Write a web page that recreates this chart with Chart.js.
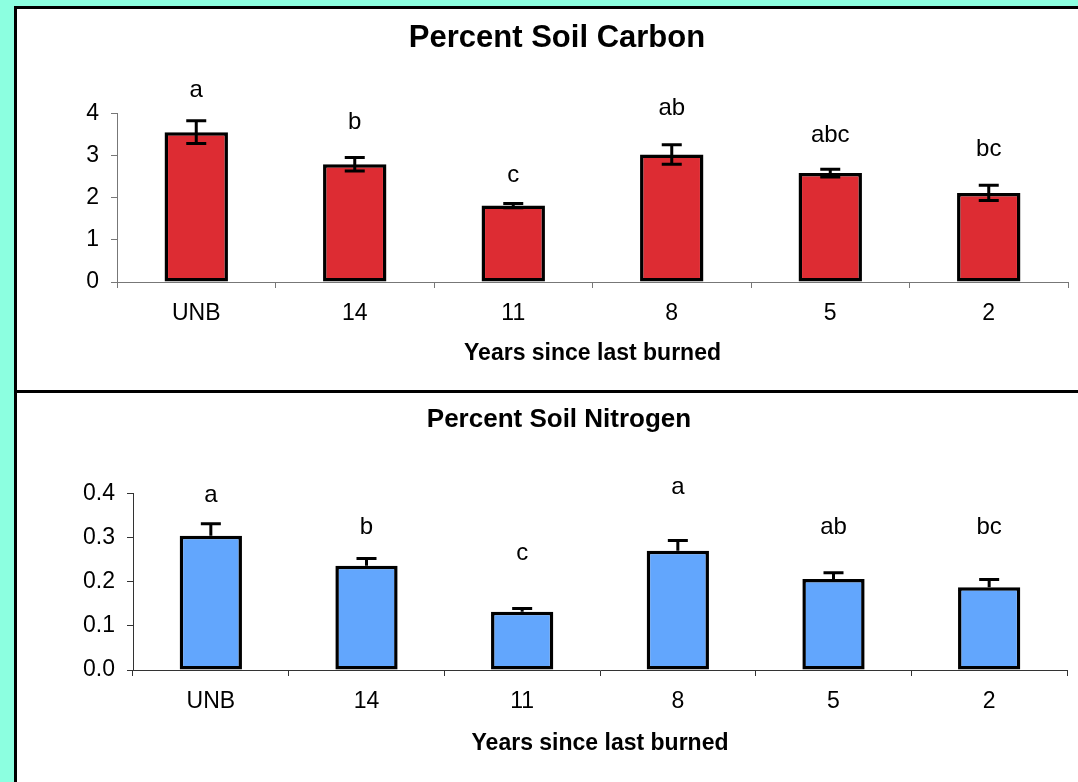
<!DOCTYPE html>
<html>
<head>
<meta charset="utf-8">
<script src="https://cdn.jsdelivr.net/npm/chart.js@4.4.0/dist/chart.umd.min.js"></script>
<style>
  html, body { margin: 0; padding: 0; }
  body { width: 1078px; height: 782px; background: #8cffe0; position: relative; overflow: hidden; }
  #panel { position: absolute; left: 14px; top: 6px; width: 1100px; height: 800px; background: #fff; border-left: 3px solid #000; border-top: 3px solid #000; }
  #divider { position: absolute; left: 14px; top: 390px; width: 1100px; height: 3px; background: #000; }
  canvas { position: absolute; left: 17px; }
  #carbon { top: 9px; }
  #nitrogen { top: 393px; }
</style>
</head>
<body>
<div id="panel"></div>
<div id="divider"></div>
<canvas id="carbon" width="1080" height="381"></canvas>
<canvas id="nitrogen" width="1080" height="389"></canvas>
<script>
const years = ['UNB', '14', '11', '8', '5', '2'];

const carbonPct = [3.55, 2.79, 1.81, 3.02, 2.58, 2.11];
const carbonErr = [0.27, 0.16, 0.05, 0.23, 0.09, 0.18];
const carbonLetters = ['a', 'b', 'c', 'ab', 'abc', 'bc'];
const carbonLetterAt = [4.38, 3.62, 2.38, 3.95, 3.32, 2.99];

const nitrogenPct = [0.304, 0.236, 0.132, 0.270, 0.206, 0.187];
const nitrogenErr = [0.027, 0.016, 0.007, 0.023, 0.014, 0.018];
const nitrogenLetters = ['a', 'b', 'c', 'a', 'ab', 'bc'];
const nitrogenLetterAt = [0.381, 0.307, 0.250, 0.399, 0.307, 0.307];

Chart.defaults.font.family = "'Liberation Sans', Arial, sans-serif";
Chart.defaults.color = '#000';

// error bars + significance letters, drawn off the chart's own scales
const extrasPlugin = {
  id: 'extras',
  afterDatasetsDraw(chart, args, opts) {
    const { ctx, scales: { x, y } } = chart;
    const bars = chart.getDatasetMeta(0).data;
    const values = chart.data.datasets[0].data;
    ctx.save();
    ctx.strokeStyle = '#000';
    ctx.lineWidth = 3;
    bars.forEach((bar, i) => {
      const v = values[i];
      const e = opts.errors[i];
      const top = y.getPixelForValue(v + e);
      const bottom = opts.both ? y.getPixelForValue(v - e) : bar.y;
      ctx.beginPath();
      ctx.moveTo(bar.x, top);
      ctx.lineTo(bar.x, bottom);
      ctx.moveTo(bar.x - 10, top);
      ctx.lineTo(bar.x + 10, top);
      if (opts.both) {
        ctx.moveTo(bar.x - 10, bottom);
        ctx.lineTo(bar.x + 10, bottom);
      }
      ctx.stroke();
    });
    ctx.fillStyle = '#000';
    ctx.font = "24px 'Liberation Sans', Arial, sans-serif";
    ctx.textAlign = 'center';
    ctx.textBaseline = 'alphabetic';
    opts.letters.forEach((t, i) => {
      ctx.fillText(t, x.getPixelForValue(i), y.getPixelForValue(opts.letterAt[i]));
    });
    ctx.restore();
  },
};

function makeChart(id, cfg) {
  return new Chart(document.getElementById(id), {
    type: 'bar',
    data: {
      labels: years,
      datasets: [{
        data: cfg.values,
        backgroundColor: cfg.color,
        borderColor: '#000',
        borderWidth: 3.5,
        borderSkipped: false,
        categoryPercentage: 1,
        barPercentage: 0.4,
      }],
    },
    options: {
      responsive: false,
      animation: false,
      layout: { padding: { left: cfg.padLeft, right: cfg.padRight, top: 0, bottom: cfg.padBottom } },
      plugins: {
        legend: { display: false },
        tooltip: { enabled: false },
        title: {
          display: true,
          text: cfg.title,
          color: '#000',
          font: { size: cfg.titleSize, weight: 'bold' },
          padding: { top: cfg.titleTop, bottom: cfg.titleBottom },
        },
        extras: { errors: cfg.errors, both: cfg.both, letters: cfg.letters, letterAt: cfg.letterAt },
      },
      scales: {
        x: {
          grid: { drawOnChartArea: false, offset: true, tickLength: 6, color: cfg.axisColor },
          border: { color: cfg.axisColor, width: 1 },
          ticks: { font: { size: 23 }, padding: 12, color: '#000' },
          title: {
            display: true,
            text: 'Years since last burned',
            color: '#000',
            font: { size: 23, weight: 'bold' },
            padding: { top: 4, bottom: 3 },
          },
          afterFit: (s) => { s.height = cfg.xHeight; },
        },
        y: {
          min: 0,
          max: cfg.max,
          grid: { drawOnChartArea: false, tickLength: 6, color: cfg.axisColor },
          border: { color: cfg.axisColor, width: 1 },
          ticks: {
            stepSize: cfg.step,
            font: { size: cfg.yTickSize },
            padding: 12,
            color: '#000',
            callback: (v) => v.toFixed(cfg.decimals),
          },
          afterFit: (s) => { s.width = cfg.yWidth; },
        },
      },
    },
    plugins: [extrasPlugin],
  });
}

makeChart('carbon', {
  values: carbonPct,
  errors: carbonErr,
  both: true,
  letters: carbonLetters,
  letterAt: carbonLetterAt,
  color: '#dd2c33',
  title: 'Percent Soil Carbon',
  titleSize: 31,
  titleTop: 11,
  titleBottom: 56,
  max: 4,
  step: 1,
  decimals: 0,
  yTickSize: 23,
  yWidth: 71,
  xHeight: 88,
  padLeft: 29,
  padRight: 29,
  padBottom: 20,
  axisColor: '#777',
});

makeChart('nitrogen', {
  values: nitrogenPct,
  errors: nitrogenErr,
  both: false,
  letters: nitrogenLetters,
  letterAt: nitrogenLetterAt,
  color: '#62a6fd',
  title: 'Percent Soil Nitrogen',
  titleSize: 26,
  titleTop: 11,
  titleBottom: 58,
  max: 0.4,
  step: 0.1,
  decimals: 1,
  yTickSize: 23,
  yWidth: 82,
  xHeight: 90,
  padLeft: 34,
  padRight: 30,
  padBottom: 22,
  axisColor: '#333',
});
</script>
</body>
</html>
